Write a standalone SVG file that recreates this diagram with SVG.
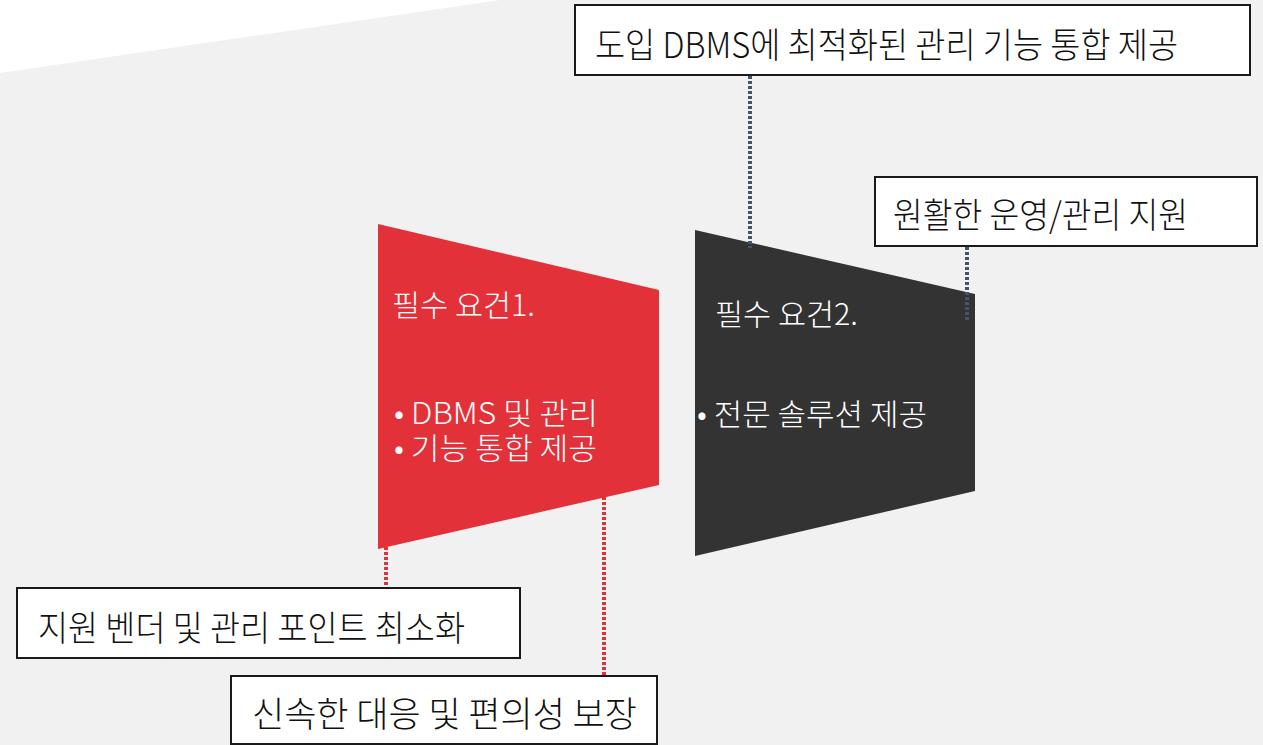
<svg xmlns="http://www.w3.org/2000/svg" width="1263" height="745" viewBox="0 0 1263 745">
<style>
.box{fill:#ffffff;stroke:#1a1a1a;stroke-width:2}
.bt{font-family:"Noto Sans CJK KR","Noto Sans",sans-serif;font-size:35px;font-weight:300;fill:#111111}
.st{font-family:"Noto Sans CJK KR","Noto Sans",sans-serif;font-size:30px;font-weight:300;fill:#ffffff}
.dr{stroke:#e3313a;stroke-width:4;stroke-dasharray:3 2;fill:none}
.dg{stroke:#44546a;stroke-width:4;stroke-dasharray:3 2;fill:none}
</style>
<rect x="0" y="0" width="1263" height="745" fill="#f1f1f1"/>
<polygon points="0,0 500,0 0,73" fill="#ffffff"/>
<g id="req1">
<polygon points="378,224 659,290 659,485 378,549" fill="#e3313a"/>
<text class="st" x="392" y="316" textLength="143" lengthAdjust="spacingAndGlyphs">필수 요건1.</text>
<text class="st"><tspan x="394" y="424" textLength="204" lengthAdjust="spacingAndGlyphs">• DBMS 및 관리</tspan><tspan x="394" y="459" textLength="203" lengthAdjust="spacingAndGlyphs">• 기능 통합 제공</tspan></text>
</g>
<g id="req2">
<polygon points="695,230 975,294 975,491 695,556" fill="#333333"/>
<text class="st" x="715" y="325" textLength="143" lengthAdjust="spacingAndGlyphs">필수 요건2.</text>
<text class="st" x="697" y="425" textLength="230" lengthAdjust="spacingAndGlyphs">• 전문 솔루션 제공</text>
</g>
<g id="connectors">
<line class="dg" x1="750" y1="76" x2="750" y2="248"/>
<line class="dg" x1="967" y1="247" x2="967" y2="322"/>
<line class="dr" x1="386" y1="547" x2="386" y2="588"/>
<line class="dr" x1="604" y1="497" x2="604" y2="675"/>
</g>
<g id="box-top">
<rect class="box" x="575" y="5" width="675" height="70"/>
<text class="bt" x="595" y="58" textLength="583" lengthAdjust="spacingAndGlyphs">도입 DBMS에 최적화된 관리 기능 통합 제공</text>
</g>
<g id="box-ops">
<rect class="box" x="875" y="177" width="382" height="69"/>
<text class="bt" x="893" y="228" textLength="295" lengthAdjust="spacingAndGlyphs">원활한 운영/관리 지원</text>
</g>
<g id="box-vendor">
<rect class="box" x="17" y="588" width="503" height="70"/>
<text class="bt" x="38" y="641" textLength="427" lengthAdjust="spacingAndGlyphs">지원 벤더 및 관리 포인트 최소화</text>
</g>
<g id="box-quick">
<rect class="box" x="231" y="676" width="426" height="68"/>
<text class="bt" x="252" y="727" textLength="385" lengthAdjust="spacingAndGlyphs">신속한 대응 및 편의성 보장</text>
</g>
</svg>
